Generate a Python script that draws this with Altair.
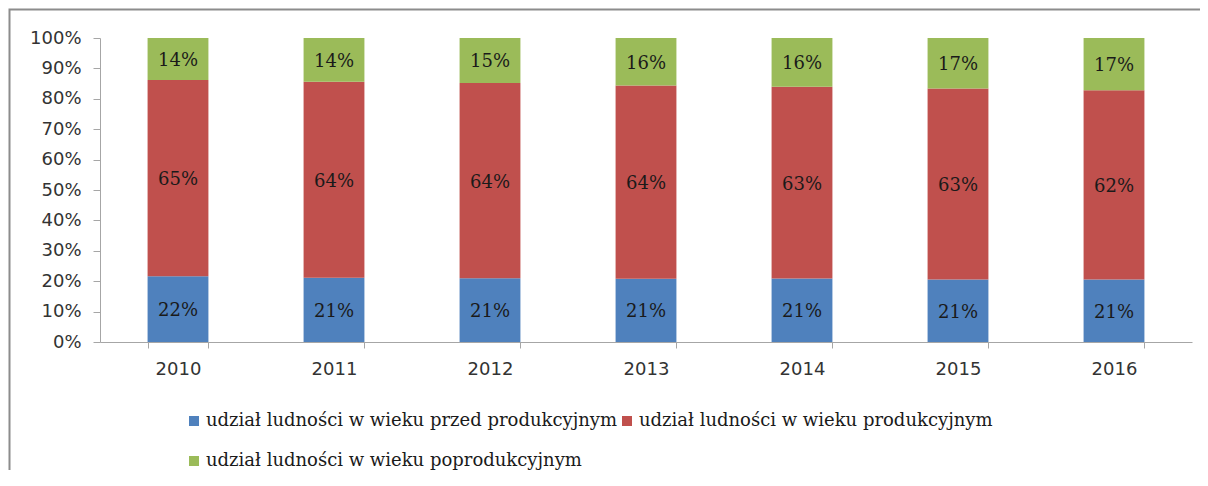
import altair as alt
import pandas as pd

years = ["2010", "2011", "2012", "2013", "2014", "2015", "2016"]
series = [
    "udział ludności w wieku przed produkcyjnym",
    "udział ludności w wieku produkcyjnym",
    "udział ludności w wieku poprodukcyjnym",
]
pre = [21.6, 21.1, 21.0, 20.8, 20.9, 20.6, 20.6]
prod = [64.6, 64.4, 64.2, 63.6, 63.1, 62.8, 62.2]
post = [13.8, 14.4, 14.8, 15.6, 16.0, 16.6, 17.2]
colors = ["#4F81BD", "#C0504D", "#9BBB59"]
y_ticks = [0, 0.1, 0.2, 0.3, 0.4, 0.5, 0.6, 0.7, 0.8, 0.9, 1.0]

rows = []
for i, yr in enumerate(years):
    for k, (name, vals) in enumerate(zip(series, [pre, prod, post])):
        rows.append({"year": yr, "series": name, "order": k, "value": vals[i]})
df = pd.DataFrame(rows)

axis_gray = "#A6A6A6"

base = alt.Chart(df).transform_stack(
    stack="value",
    groupby=["year"],
    as_=["v0", "v1"],
    offset="normalize",
    sort=[alt.SortField("order", order="ascending")],
).transform_calculate(
    mid="(datum.v0 + datum.v1) / 2",
    label="format(datum.value / 100, '.0%')",
)

x_axis = alt.Axis(
    title=None,
    labelAngle=0,
    tickBand="extent",
    domainColor=axis_gray,
    tickColor=axis_gray,
    tickSize=6,
    labelPadding=12,
    labelFont="DejaVu Sans",
    labelFontSize=18,
    labelColor="#333333",
)
y_axis = alt.Axis(
    values=y_ticks,
    format=".0%",
    title=None,
    grid=False,
    labelOverlap=False,
    domainColor=axis_gray,
    tickColor=axis_gray,
    tickSize=7,
    labelPadding=12,
    labelFont="DejaVu Sans",
    labelFontSize=18,
    labelColor="#333333",
)
x_scale = alt.Scale(paddingInner=0.61, paddingOuter=0.305)
y_scale = alt.Scale(domain=[0, 1])

bars = base.mark_bar().encode(
    x=alt.X("year:N", sort=years, scale=x_scale, axis=x_axis),
    y=alt.Y("v0:Q", scale=y_scale, axis=y_axis),
    y2="v1:Q",
    color=alt.Color(
        "series:N",
        scale=alt.Scale(domain=series, range=colors),
        legend=alt.Legend(
            title=None,
            orient="none",
            legendX=85,
            legendY=374,
            direction="horizontal",
            columns=2,
            symbolType="square",
            symbolSize=100,
            symbolStrokeWidth=0,
            symbolOpacity=1,
            labelFont="DejaVu Serif",
            labelFontSize=18,
            labelColor="#1a1a1a",
            labelLimit=0,
            labelOffset=3,
            rowPadding=22,
            columnPadding=0,
        ),
    ),
    order=alt.Order("order:Q"),
)

texts = base.mark_text(
    font="DejaVu Serif", fontSize=18, color="#1a1a1a", baseline="middle", dy=2
).encode(
    x=alt.X("year:N", sort=years, scale=x_scale, axis=x_axis),
    y=alt.Y("mid:Q", scale=y_scale, axis=y_axis),
    text="label:N",
)

frame_data = alt.InlineData(values=[{"k": 1}])
frame = alt.Chart(frame_data).mark_rect(
    fill=None, fillOpacity=0, stroke="#8c8c8c", strokeWidth=2
).encode(
    x=alt.value(-90.5), x2=alt.value(1200), y=alt.value(-28.5), y2=alt.value(500)
)

chart = alt.layer(bars, texts, frame).properties(
    width=1092,
    height=304,
    autosize=alt.AutoSizeParams(type="none"),
    padding={"left": 92, "top": 30, "right": 8, "bottom": 128},
).configure_view(stroke=None)

chart.save("out.html", embed_options={"renderer": "svg", "actions": False})
